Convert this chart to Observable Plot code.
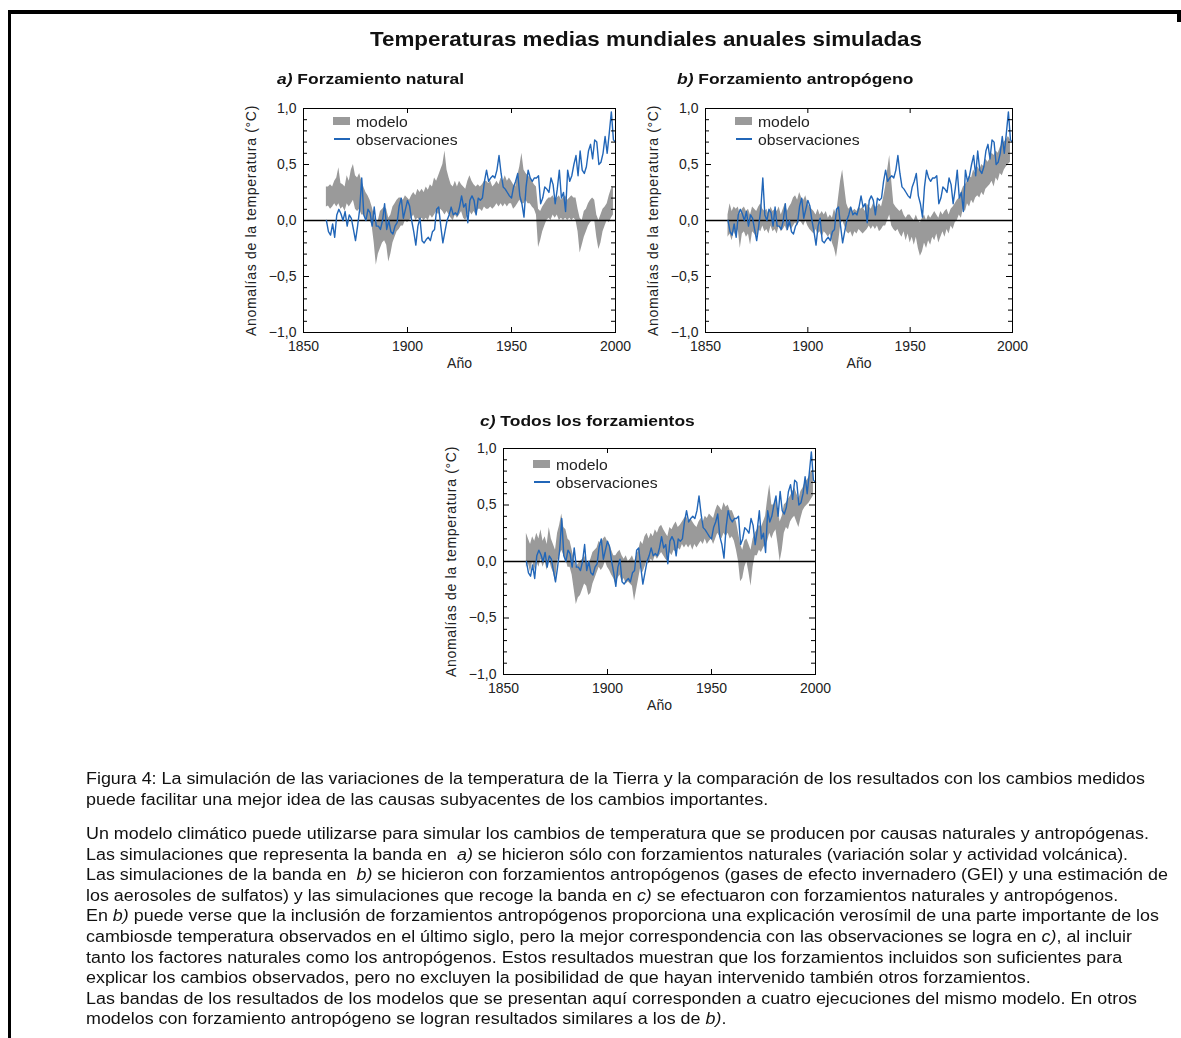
<!DOCTYPE html>
<html>
<head>
<meta charset="utf-8">
<script src="https://cdn.jsdelivr.net/npm/d3@7"></script>
<script src="https://cdn.jsdelivr.net/npm/@observablehq/plot@0.6"></script>
<style>
  html, body { margin: 0; padding: 0; background: #fff; }
  body { width: 1181px; height: 1038px; position: relative; overflow: hidden;
         font-family: "Liberation Sans", Arial, Helvetica, sans-serif; color: #111; }
  .abs { position: absolute; }
  .bar { position: absolute; background: #000; }
  .wide { display: inline-block; transform-origin: 0 0; white-space: nowrap; }
  .title { font-size: 21px; font-weight: bold; line-height: 24px; }
  .ptitle { font-size: 15.5px; font-weight: bold; line-height: 20px; }
  .legtext { font-size: 14px; line-height: 16px; color: #222; }
  .caption { font-size: 16px; line-height: 20px; color: #111; }
</style>
</head>
<body>
<script>
// ---------------- data ----------------
const years = d3.range(1861, 2001);      // observation years
const bandYears = d3.range(1861, 2000);  // model band years

const observaciones = [
  0.00, -0.10, -0.13, -0.03, -0.15, 0.05, 0.10, 0.06, 0.00, 0.08,
  -0.05, 0.05, 0.02, -0.08, -0.18, -0.05, 0.10, 0.38, 0.05, 0.00,
  0.10, 0.07, -0.05, 0.12, -0.05, -0.05, -0.08, 0.00, 0.15, -0.08,
  0.00, -0.10, -0.12, -0.05, -0.02, 0.13, 0.20, 0.02, 0.10, 0.18,
  0.13, 0.00, -0.10, -0.22, -0.05, 0.02, -0.18, -0.20, -0.17, -0.15,
  -0.18, -0.10, -0.08, 0.10, 0.12, -0.05, -0.20, -0.10, 0.00, 0.05,
  0.12, 0.05, 0.07, 0.05, 0.12, 0.22, 0.12, 0.15, -0.02, 0.18,
  0.22, 0.18, 0.05, 0.20, 0.18, 0.20, 0.35, 0.45, 0.35, 0.38,
  0.40, 0.38, 0.45, 0.58, 0.42, 0.30, 0.28, 0.25, 0.22, 0.20,
  0.30, 0.35, 0.42, 0.22, 0.15, 0.03, 0.30, 0.45, 0.38, 0.35,
  0.38, 0.38, 0.40, 0.15, 0.20, 0.30, 0.28, 0.25, 0.38, 0.32,
  0.15, 0.28, 0.45, 0.20, 0.25, 0.08, 0.45, 0.35, 0.40, 0.50,
  0.58, 0.40, 0.62, 0.45, 0.42, 0.48, 0.62, 0.68, 0.55, 0.72,
  0.70, 0.50, 0.52, 0.60, 0.75, 0.60, 0.78, 0.97, 0.72, 0.70
];

// a) natural forcing band
const naturalLo = [
  0.12, 0.13, 0.10, 0.12, 0.15, 0.12, 0.15, 0.10, 0.12, 0.08,
  0.15, 0.12, 0.15, 0.18, 0.10, 0.08, 0.10, 0.05, 0.05, 0.02,
  0.00, 0.00, -0.05, -0.20, -0.40, -0.30, -0.25, -0.20, -0.18, -0.22,
  -0.37, -0.30, -0.20, -0.15, -0.10, -0.08, -0.05, -0.05, 0.00, -0.02,
  0.00, 0.02, 0.05, 0.00, 0.02, 0.00, 0.02, 0.00, 0.02, 0.00,
  0.05, 0.02, 0.05, 0.08, 0.05, 0.10, 0.08, 0.05, 0.08, 0.05,
  0.02, 0.00, 0.05, 0.02, 0.05, 0.08, 0.02, 0.00, 0.05, 0.08,
  0.05, 0.08, 0.05, 0.10, 0.10, 0.08, 0.12, 0.10, 0.10, 0.12,
  0.10, 0.12, 0.15, 0.12, 0.15, 0.12, 0.15, 0.12, 0.15, 0.15,
  0.10, 0.12, 0.15, 0.18, 0.15, 0.15, 0.18, 0.15, 0.15, 0.12,
  0.10, 0.05, -0.24, -0.18, -0.10, -0.05, 0.00, 0.02, 0.00, 0.05,
  0.02, 0.05, 0.00, 0.02, 0.00, 0.02, 0.00, 0.02, 0.00, 0.02,
  0.00, -0.10, -0.29, -0.22, -0.15, -0.10, -0.05, -0.02, 0.00, 0.00,
  -0.15, -0.26, -0.20, -0.10, -0.05, 0.00, -0.02, 0.02, 0.05
];
const naturalHi = [
  0.30, 0.30, 0.32, 0.30, 0.35, 0.38, 0.47, 0.33, 0.32, 0.30,
  0.40, 0.35, 0.45, 0.50, 0.40, 0.38, 0.42, 0.35, 0.30, 0.25,
  0.22, 0.18, 0.12, 0.05, -0.02, 0.00, 0.08, 0.10, 0.12, 0.10,
  0.02, 0.05, 0.12, 0.15, 0.18, 0.20, 0.20, 0.18, 0.22, 0.20,
  0.18, 0.22, 0.25, 0.22, 0.28, 0.25, 0.28, 0.25, 0.30, 0.27,
  0.32, 0.30, 0.38, 0.35, 0.40, 0.45, 0.50, 0.62, 0.45, 0.38,
  0.32, 0.30, 0.35, 0.30, 0.35, 0.32, 0.30, 0.28, 0.35, 0.40,
  0.35, 0.32, 0.30, 0.32, 0.30, 0.32, 0.35, 0.35, 0.33, 0.35,
  0.30, 0.32, 0.35, 0.32, 0.38, 0.35, 0.40, 0.35, 0.38, 0.35,
  0.32, 0.30, 0.40, 0.48, 0.60, 0.45, 0.42, 0.40, 0.38, 0.35,
  0.32, 0.30, 0.10, 0.08, 0.12, 0.15, 0.18, 0.20, 0.20, 0.22,
  0.18, 0.20, 0.22, 0.18, 0.20, 0.22, 0.18, 0.20, 0.22, 0.20,
  0.20, 0.10, 0.02, 0.00, 0.08, 0.10, 0.15, 0.18, 0.20, 0.18,
  0.05, 0.00, 0.05, 0.10, 0.12, 0.15, 0.22, 0.28, 0.30
];

// b) anthropogenic forcing band
const antropoLo = [
  -0.15, -0.12, -0.18, -0.10, -0.15, -0.08, -0.25, -0.12, -0.10, -0.15,
  -0.12, -0.22, -0.10, -0.12, -0.15, -0.08, -0.10, -0.05, -0.10, -0.08,
  -0.12, -0.05, -0.10, -0.08, -0.12, -0.05, -0.10, -0.08, -0.05, -0.10,
  -0.05, -0.08, -0.05, -0.02, -0.05, 0.00, -0.02, -0.05, 0.00, -0.05,
  -0.08, -0.10, -0.12, -0.08, -0.12, -0.10, -0.15, -0.10, -0.12, -0.15,
  -0.12, -0.20, -0.25, -0.33, -0.20, -0.05, 0.00, -0.05, -0.10, -0.12,
  -0.10, -0.15, -0.10, -0.12, -0.08, -0.10, -0.12, -0.10, -0.08, -0.05,
  -0.08, -0.05, -0.08, -0.05, -0.10, -0.08, -0.05, -0.05, 0.00, 0.05,
  -0.05, -0.08, -0.10, -0.08, -0.12, -0.15, -0.10, -0.18, -0.12, -0.20,
  -0.15, -0.22, -0.15, -0.25, -0.32, -0.28, -0.20, -0.25, -0.18, -0.22,
  -0.15, -0.18, -0.12, -0.20, -0.15, -0.10, -0.15, -0.08, -0.12, -0.05,
  -0.08, -0.02, 0.00, 0.05, 0.02, 0.10, 0.08, 0.15, 0.12, 0.18,
  0.15, 0.20, 0.22, 0.20, 0.25, 0.22, 0.28, 0.30, 0.32, 0.35,
  0.30, 0.38, 0.35, 0.42, 0.40, 0.45, 0.48, 0.50, 0.52
];
const antropoHi = [
  0.05, 0.15, 0.08, 0.12, 0.10, 0.12, 0.05, 0.10, 0.12, 0.08,
  0.10, 0.05, 0.12, 0.10, 0.08, 0.12, 0.15, 0.10, 0.08, 0.10,
  0.05, 0.12, 0.08, 0.10, 0.08, 0.12, 0.05, 0.10, 0.15, 0.08,
  0.12, 0.15, 0.20, 0.22, 0.18, 0.25, 0.20, 0.18, 0.22, 0.15,
  0.12, 0.10, 0.08, 0.05, 0.10, 0.05, 0.08, 0.05, 0.08, 0.02,
  0.05, 0.02, 0.10, 0.05, 0.20, 0.35, 0.45, 0.30, 0.15, 0.10,
  0.12, 0.08, 0.10, 0.08, 0.12, 0.10, 0.12, 0.08, 0.15, 0.12,
  0.10, 0.15, 0.12, 0.12, 0.15, 0.12, 0.20, 0.30, 0.45, 0.58,
  0.35, 0.15, 0.12, 0.10, 0.08, 0.10, 0.05, 0.02, 0.05, 0.05,
  0.02, 0.00, 0.05, 0.00, -0.02, 0.02, 0.05, 0.00, 0.05, 0.02,
  0.05, 0.08, 0.05, 0.02, 0.08, 0.05, 0.08, 0.10, 0.05, 0.10,
  0.12, 0.15, 0.18, 0.20, 0.25, 0.30, 0.32, 0.35, 0.40, 0.38,
  0.45, 0.42, 0.48, 0.45, 0.50, 0.48, 0.55, 0.52, 0.55, 0.60,
  0.58, 0.62, 0.60, 0.65, 0.68, 0.70, 0.72, 0.75, 0.72
];

// c) all forcings band
const todosLo = [
  -0.05, -0.02, -0.10, 0.00, -0.08, 0.00, -0.05, 0.02, -0.05, 0.00,
  -0.08, 0.02, -0.05, -0.10, -0.18, 0.00, 0.05, 0.10, 0.05, 0.02,
  -0.05, -0.05, -0.12, -0.25, -0.38, -0.32, -0.30, -0.25, -0.20, -0.22,
  -0.30, -0.28, -0.20, -0.15, -0.10, -0.05, -0.08, -0.05, 0.00, -0.05,
  -0.08, -0.12, -0.15, -0.20, -0.15, -0.12, -0.18, -0.15, -0.20, -0.18,
  -0.20, -0.22, -0.35, -0.25, -0.15, -0.05, -0.10, -0.05, 0.00, -0.02,
  0.02, 0.00, 0.05, 0.02, 0.05, 0.08, 0.05, 0.02, 0.00, 0.08,
  0.05, 0.10, 0.08, 0.12, 0.10, 0.15, 0.12, 0.15, 0.12, 0.15,
  0.10, 0.15, 0.12, 0.15, 0.18, 0.15, 0.20, 0.15, 0.18, 0.20,
  0.15, 0.20, 0.25, 0.22, 0.20, 0.25, 0.22, 0.25, 0.20, 0.22,
  0.18, 0.10, 0.00, -0.18, -0.15, -0.05, 0.00, -0.10, -0.22, -0.05,
  0.05, 0.05, 0.10, 0.08, 0.12, 0.15, 0.18, 0.25, 0.20, 0.25,
  0.28, 0.15, 0.00, 0.10, 0.25, 0.30, 0.28, 0.35, 0.38, 0.40,
  0.35, 0.30, 0.38, 0.45, 0.48, 0.50, 0.52, 0.55, 0.58
];
const todosHi = [
  0.25, 0.20, 0.15, 0.22, 0.18, 0.25, 0.20, 0.28, 0.18, 0.22,
  0.15, 0.30, 0.20, 0.15, 0.10, 0.25, 0.32, 0.42, 0.30, 0.28,
  0.20, 0.18, 0.10, 0.02, -0.05, -0.02, 0.00, 0.02, 0.05, 0.00,
  -0.02, 0.02, 0.08, 0.10, 0.12, 0.18, 0.15, 0.20, 0.22, 0.18,
  0.15, 0.10, 0.05, 0.05, 0.08, 0.10, 0.05, 0.02, 0.05, 0.00,
  0.02, 0.05, 0.00, 0.05, 0.10, 0.18, 0.15, 0.22, 0.25, 0.20,
  0.25, 0.22, 0.28, 0.25, 0.30, 0.32, 0.28, 0.25, 0.22, 0.30,
  0.28, 0.32, 0.35, 0.30, 0.32, 0.35, 0.38, 0.40, 0.35, 0.38,
  0.35, 0.32, 0.30, 0.35, 0.38, 0.35, 0.40, 0.38, 0.42, 0.40,
  0.38, 0.45, 0.50, 0.48, 0.45, 0.52, 0.48, 0.50, 0.45, 0.45,
  0.40, 0.35, 0.25, 0.15, 0.10, 0.18, 0.20, 0.15, 0.10, 0.20,
  0.25, 0.28, 0.32, 0.30, 0.35, 0.40, 0.55, 0.68, 0.50, 0.50,
  0.55, 0.45, 0.35, 0.40, 0.50, 0.52, 0.55, 0.58, 0.62, 0.65,
  0.60, 0.55, 0.62, 0.65, 0.70, 0.72, 0.75, 0.80, 0.78
];

const yMajorTicks = [-1, -0.5, 0, 0.5, 1];
const yMinorTicks = [-0.9, -0.8, -0.7, -0.6, -0.4, -0.3, -0.2, -0.1, 0.1, 0.2, 0.3, 0.4, 0.6, 0.7, 0.8, 0.9];
const xTickLabels = [1850, 1900, 1950, 2000];
const xInnerTicks = [1900, 1950];

const titleText = "Temperaturas medias mundiales anuales simuladas";
const panels = [
  {letter: "a)", name: "Forzamiento natural", lo: naturalLo, hi: naturalHi},
  {letter: "b)", name: "Forzamiento antropógeno", lo: antropoLo, hi: antropoHi},
  {letter: "c)", name: "Todos los forzamientos", lo: todosLo, hi: todosHi}
];
const legendLabels = ["modelo", "observaciones"];
const yLabel = "Anomalías de la temperatura (°C)";
const xLabel = "Año";

// caption lines: segments [text, italic?]
const captionP1 = [
  [["Figura 4: La simulación de las variaciones de la temperatura de la Tierra y la comparación de los resultados con los cambios medidos", 0]],
  [["puede facilitar una mejor idea de las causas subyacentes de los cambios importantes.", 0]]
];
const captionP2 = [
  [["Un modelo climático puede utilizarse para simular los cambios de temperatura que se producen por causas naturales y antropógenas.", 0]],
  [["Las simulaciones que representa la banda en\u00a0\u00a0", 0], ["a)", 1], ["\u00a0se hicieron sólo con forzamientos naturales (variación solar y actividad volcánica).", 0]],
  [["Las simulaciones de la banda en\u00a0\u00a0", 0], ["b)", 1], ["\u00a0se hicieron con forzamientos antropógenos (gases de efecto invernadero (GEI) y una estimación de", 0]],
  [["los aerosoles de sulfatos) y las simulaciones que recoge la banda en\u00a0", 0], ["c)", 1], ["\u00a0se efectuaron con forzamientos naturales y antropógenos.", 0]],
  [["En\u00a0", 0], ["b)", 1], ["\u00a0puede verse que la inclusión de forzamientos antropógenos proporciona una explicación verosímil de una parte importante de los", 0]],
  [["cambiosde temperatura observados en el último siglo, pero la mejor correspondencia con las observaciones se logra en\u00a0", 0], ["c)", 1], [", al incluir", 0]],
  [["tanto los factores naturales como los antropógenos. Estos resultados muestran que los forzamientos incluidos son suficientes para", 0]],
  [["explicar los cambios observados, pero no excluyen la posibilidad de que hayan intervenido también otros forzamientos.", 0]],
  [["Las bandas de los resultados de los modelos que se presentan aquí corresponden a cuatro ejecuciones del mismo modelo. En otros", 0]],
  [["modelos con forzamiento antropógeno se logran resultados similares a los de\u00a0", 0], ["b)", 1], [".", 0]]
];

// ---------------- layout ----------------
const layout = [
  {fx: 303, fy: 108, fw: 312, fh: 224, tx: 277, ty: 69, legDy: 9},
  {fx: 705, fy: 108, fw: 307, fh: 224, tx: 677, ty: 69, legDy: 9},
  {fx: 503, fy: 448, fw: 312, fh: 226, tx: 480, ty: 411, legDy: 12}
];
const BAND = "#9a9a9a", BLUE = "#2166b8";
const ML = 63, MR = 25, MT = 13, MB = 50;
const STRETCH = 1.125;

const fmt = d => d3.format(".1f")(d).replace(".", ",");
const obsTable = years.map((yr, i) => ({year: yr, v: observaciones[i]}));

function el(tag, cls, css, parent) {
  const e = document.createElement(tag);
  if (cls) e.className = cls;
  Object.assign(e.style, css || {});
  (parent || document.body).appendChild(e);
  return e;
}
function textBox(cls, left, top, segments, stretch) {
  const box = el("div", "abs", {left: left + "px", top: top + "px"});
  const inner = el("span", "wide " + cls, {transform: `scaleX(${stretch})`}, box);
  segments.forEach(([t, it]) => {
    const s = el(it ? "i" : "span", "", {}, inner);
    s.textContent = t;
  });
  return box;
}

// borders
el("div", "bar", {left: "8px", top: "10px", width: "1173px", height: "4px"});
el("div", "bar", {left: "8px", top: "10px", width: "3px", height: "1028px"});
el("div", "bar", {left: "1177px", top: "10px", width: "4px", height: "12px"});

// title
textBox("title", 370, 27, [[titleText, 0]], 1.066);

panels.forEach((p, k) => {
  const L = layout[k];
  const bandTable = bandYears.map((yr, i) => ({year: yr, lo: p.lo[i], hi: p.hi[i]}));
  const chart = Plot.plot({
    width: L.fw + ML + MR,
    height: L.fh + MT + MB,
    marginLeft: ML, marginRight: MR, marginTop: MT, marginBottom: MB,
    style: {fontFamily: '"Liberation Sans", Arial, Helvetica, sans-serif', fontSize: "14px", color: "#222", background: "transparent", overflow: "visible"},
    x: {domain: [1850, 2000], ticks: xTickLabels, tickFormat: d => String(d), tickSize: 0, tickPadding: 9,
        label: xLabel, labelAnchor: "center", labelArrow: "none", labelOffset: 35},
    y: {domain: [-1, 1], ticks: yMajorTicks, tickFormat: fmt, tickSize: 0, tickPadding: 7,
        label: yLabel, labelAnchor: "center", labelArrow: "none", labelOffset: 57},
    marks: [
      Plot.areaY(bandTable, {x: "year", y1: "lo", y2: "hi", fill: BAND, curve: "linear", imageFilter: "blur(0.5px)"}),
      Plot.ruleY([0], {stroke: "#000", strokeWidth: 1.3}),
      Plot.lineY(obsTable, {x: "year", y: "v", stroke: BLUE, strokeWidth: 1.4}),
      Plot.frame({stroke: "#000", strokeWidth: 1}),
      Plot.tickY(yMajorTicks, {stroke: "#000", insetRight: L.fw - 6}),
      Plot.tickY(yMajorTicks, {stroke: "#000", insetLeft: L.fw - 6}),
      Plot.tickY(yMinorTicks, {stroke: "#000", insetRight: L.fw - 4}),
      Plot.tickY(yMinorTicks, {stroke: "#000", insetLeft: L.fw - 4}),
      Plot.tickX(xInnerTicks, {stroke: "#000", insetBottom: L.fh - 5}),
      Plot.tickX(xInnerTicks, {stroke: "#000", insetTop: L.fh - 5})
    ]
  });
  // widen the rotated axis label slightly to match the reference lettering
  chart.querySelectorAll('g[aria-label="y-axis label"] text').forEach(t => t.style.letterSpacing = "0.7px");
  const wrap = el("div", "abs", {left: (L.fx - ML) + "px", top: (L.fy - MT) + "px"});
  wrap.appendChild(chart);

  // panel title
  textBox("ptitle", L.tx, L.ty, [[p.letter, 1], ["\u00a0" + p.name, 0]], STRETCH);

  // legend
  const lx = L.fx + 30, ly = L.fy + L.legDy;
  el("div", "abs", {left: lx + "px", top: ly + "px", width: "17px", height: "8px", background: BAND});
  textBox("legtext", lx + 23, ly - 4, [[legendLabels[0], 0]], STRETCH);
  el("div", "abs", {left: (lx + 1) + "px", top: (ly + 21) + "px", width: "16px", height: "1.5px", background: BLUE});
  textBox("legtext", lx + 23, ly + 14, [[legendLabels[1], 0]], STRETCH);
});

// caption
captionP1.forEach((segs, i) => textBox("caption", 86, 769 + i * 20.7, segs, 1.118));
captionP2.forEach((segs, i) => textBox("caption", 86, 824 + i * 20.6, segs, 1.118));
</script>
</body>
</html>
